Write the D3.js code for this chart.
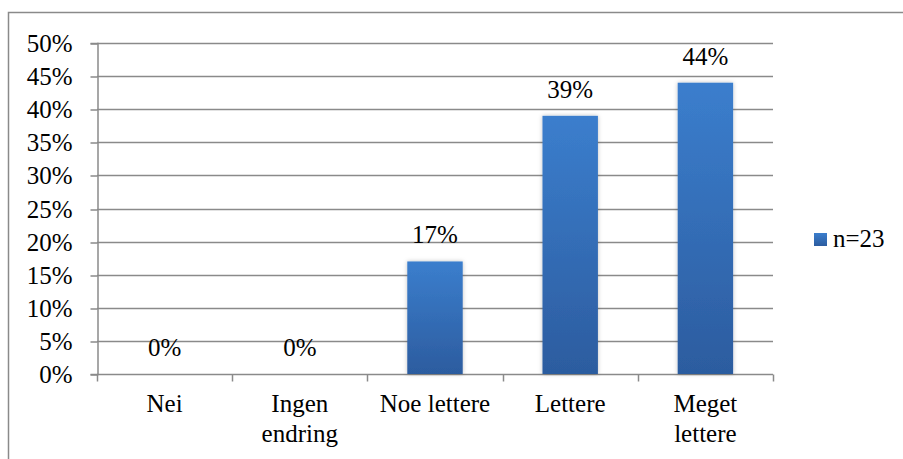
<!DOCTYPE html>
<html>
<head>
<meta charset="utf-8">
<script src="https://cdn.jsdelivr.net/npm/d3@7"></script>
<style>html, body { margin: 0; background: #fff; }</style>
</head>
<body>
<svg id="chart" width="903" height="459"></svg>
<script>
// Survey answers: share of respondents per category
const categories = [["Nei"], ["Ingen", "endring"], ["Noe lettere"], ["Lettere"], ["Meget", "lettere"]];
const values = [0, 0, 17, 39, 44];
const yTicks = [0, 5, 10, 15, 20, 25, 30, 35, 40, 45, 50];
const seriesName = "n=23";

const svg = d3.select("#chart");
const W = 903, H = 459;
const plot = { left: 97, right: 773, top: 43, bottom: 374 };
const gridColor = "#8a8a8a";

// all chart text uses the same serif face
function serif(sel) {
  return sel.style("font-family", '"Liberation Serif"').style("font-size", "25px").style("fill", "#000");
}

// outer frame (extends past the right and bottom edges)
svg.append("rect")
  .attr("x", 8.5).attr("y", 12.5)
  .attr("width", W + 20).attr("height", H + 20)
  .attr("fill", "none").attr("stroke", gridColor).attr("stroke-width", 1.5);

const defs = svg.append("defs");
const grad = defs.append("linearGradient").attr("id", "barGrad")
  .attr("x1", 0).attr("y1", 0).attr("x2", 0).attr("y2", 1);
grad.append("stop").attr("offset", "0%").attr("stop-color", "#3b7ecd");
grad.append("stop").attr("offset", "100%").attr("stop-color", "#2c5c9f");

const shadow = defs.append("filter").attr("id", "barShadow")
  .attr("x", "-20%").attr("y", "-10%").attr("width", "140%").attr("height", "120%");
shadow.append("feDropShadow")
  .attr("dx", 0).attr("dy", 0).attr("stdDeviation", 2)
  .attr("flood-color", "#000").attr("flood-opacity", 0.25);

const x = d3.scaleBand()
  .domain(d3.range(categories.length))
  .range([plot.left, plot.right])
  .padding(0);

const y = d3.scaleLinear()
  .domain([0, 50])
  .range([plot.bottom, plot.top]);

// horizontal gridlines
svg.append("g").selectAll("line")
  .data(yTicks.filter(d => d > 0))
  .join("line")
  .attr("x1", plot.left).attr("x2", plot.right)
  .attr("y1", d => Math.round(y(d)) + 0.5).attr("y2", d => Math.round(y(d)) + 0.5)
  .attr("stroke", gridColor).attr("stroke-width", 1.5);

// y axis
const yAxis = svg.append("g")
  .attr("transform", `translate(${plot.left + 0.5},0)`)
  .call(d3.axisLeft(y).tickValues(yTicks).tickFormat(d => d + "%").tickSize(7).tickPadding(18));
yAxis.attr("font-family", null).attr("font-size", null);
yAxis.select(".domain").attr("stroke", gridColor).attr("stroke-width", 1.5);
yAxis.selectAll(".tick line").attr("stroke", gridColor).attr("stroke-width", 1.5)
  .attr("transform", d => `translate(0,${Math.round(y(d)) + 0.5 - y(d)})`);
yAxis.selectAll(".tick text").call(serif).attr("dy", "0.34em");

// x axis line and category boundary ticks
const xAxis = svg.append("g")
  .attr("transform", `translate(0,${plot.bottom + 0.5})`);
xAxis.append("line")
  .attr("x1", plot.left).attr("x2", plot.right)
  .attr("stroke", gridColor).attr("stroke-width", 1.5);
const boundaries = d3.range(categories.length + 1).map(i => plot.left + i * x.step());
xAxis.selectAll("line.tk")
  .data(boundaries)
  .join("line").attr("class", "tk")
  .attr("x1", d => Math.round(d) + 0.5).attr("x2", d => Math.round(d) + 0.5)
  .attr("y1", 0).attr("y2", 7)
  .attr("stroke", gridColor).attr("stroke-width", 1.5);

// category labels, one tspan per line
const catLabels = svg.append("g").selectAll("text")
  .data(categories)
  .join("text")
  .call(serif)
  .attr("text-anchor", "middle")
  .attr("x", (d, i) => x(i) + x.bandwidth() / 2)
  .attr("y", 412);
catLabels.selectAll("tspan")
  .data(d => d)
  .join("tspan")
  .attr("x", function () { return this.parentNode.getAttribute("x"); })
  .attr("dy", (d, j) => j === 0 ? 0 : 30)
  .text(d => d);

// bars
const barW = x.bandwidth() * 0.41;
svg.append("g").selectAll("rect")
  .data(values)
  .join("rect")
  .attr("x", (d, i) => x(i) + (x.bandwidth() - barW) / 2)
  .attr("y", d => y(d))
  .attr("width", barW)
  .attr("height", d => plot.bottom - y(d))
  .attr("fill", "url(#barGrad)")
  .attr("filter", "url(#barShadow)");

// value labels above each bar
svg.append("g").selectAll("text")
  .data(values)
  .join("text")
  .call(serif)
  .attr("text-anchor", "middle")
  .attr("x", (d, i) => x(i) + x.bandwidth() / 2)
  .attr("y", d => y(d) - 18)
  .text(d => d + "%");

// legend
const legend = svg.append("g").attr("transform", "translate(814,233)");
legend.append("rect")
  .attr("width", 13).attr("height", 13)
  .attr("fill", "url(#barGrad)");
legend.append("text")
  .call(serif)
  .attr("x", 19).attr("y", 13.5)
  .text(seriesName);
</script>
</body>
</html>
